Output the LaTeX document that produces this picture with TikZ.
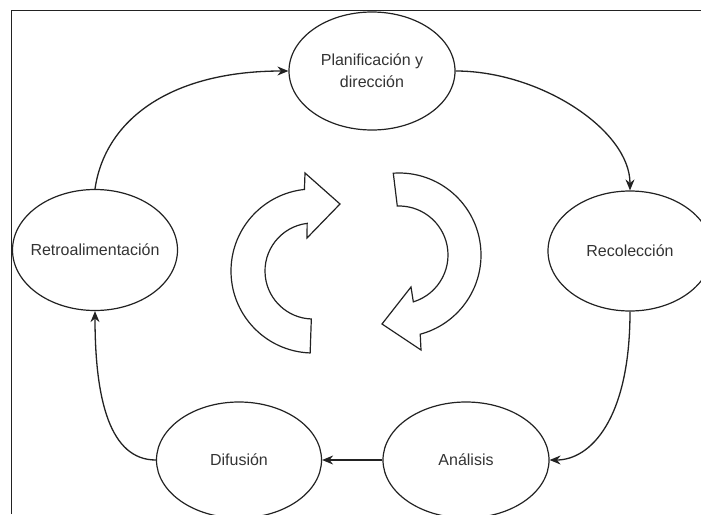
\documentclass[tikz,border=0pt]{standalone}
\usepackage{fontspec}
\setmainfont{Liberation Sans}
\usetikzlibrary{shapes.geometric,arrows.meta,calc}
\definecolor{ink}{HTML}{222222}
\definecolor{txt}{HTML}{333333}
\newcommand{\zw}[1]{\makebox[0pt]{#1}}
\tikzset{
  stage/.style={ellipse, draw=ink, line width=1.2pt, inner sep=0pt, align=center,
    text=txt, font=\fontsize{16}{22}\selectfont},
  flow/.style={draw=ink, line width=1.3pt, -{Stealth[length=11pt,width=9pt]}},
  blockarrow/.style={draw=ink, line width=1.2pt, fill=white, line join=miter},
  frameline/.style={draw=ink, line width=1.5pt}
}
\begin{document}
\begin{tikzpicture}[x=1pt,y=-1pt]
\useasboundingbox (0,0) rectangle (701,514);
% nodes
\node[stage, minimum width=166pt, minimum height=118pt] (plan) at (372,71) {\zw{Planificación y}\\\zw{dirección}};
\node[stage, minimum width=165pt, minimum height=121pt] (retro) at (95,250) {\zw{Retroalimentación}};
\node[stage, minimum width=164pt, minimum height=120pt] (recol) at (630,251) {\zw{Recolección}};
\node[stage, minimum width=165pt, minimum height=116pt] (dif) at (239,460) {\zw{Difusión}};
\node[stage, minimum width=166pt, minimum height=116pt] (anal) at (466,460) {\zw{Análisis}};
% frame
\draw[frameline] (11.5,514) -- (11.5,10.5) -- (701,10.5);
% connectors
\draw[flow] (retro.north) .. controls (105,120) and (170,71) .. (plan.west);
\draw[flow] (plan.east) .. controls (540,71) and (630,130) .. (recol.north);
\draw[flow] (recol.south) .. controls (630,420) and (590,460) .. (anal.east);
\draw[flow] (anal.west) -- (dif.east);
\draw[flow] (dif.west) .. controls (110,460) and (95,400) .. (retro.south);
% central circular arrows
\coordinate (lc) at (313,271);
\coordinate (rc) at (399,255);
\draw[blockarrow] ($(lc)+(92:82)$) arc[start angle=92, end angle=264, radius=82]
  -- (305,173) -- (340,204) -- (307,238)
  -- ($(lc)+(263:48)$) arc[start angle=263, end angle=92, radius=48] -- cycle;
\draw[blockarrow] ($(rc)+(266:82)$) arc[start angle=266, end angle=435, radius=82]
  -- (421,350) -- (382,324) -- (411,287)
  -- ($(rc)+(433:49)$) arc[start angle=433, end angle=268, radius=49] -- cycle;
\end{tikzpicture}
\end{document}
